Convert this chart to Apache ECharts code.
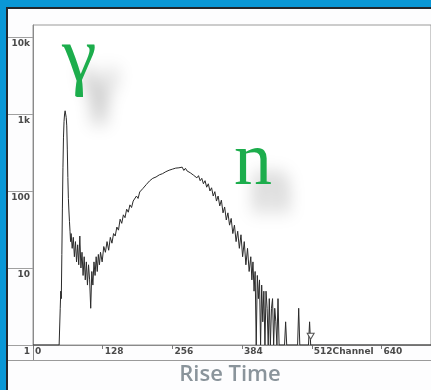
<!DOCTYPE html>
<html>
<head>
<meta charset="utf-8">
<script src="https://cdn.jsdelivr.net/npm/echarts@6/dist/echarts.min.js"></script>
<style>
  html, body { margin: 0; padding: 0; background: #fdfdfe; }
  #chart { width: 431px; height: 390px; }
</style>
</head>
<body>
<div id="chart"></div>
<script>
// rise-time spectrum, channel -> counts (1 = empty channel)
const channels = [
  0, 48, 49, 50, 51, 52, 53, 54, 55, 56, 57, 58, 59, 60, 61, 62, 63, 64, 65, 66, 67, 68, 69,
  70, 72, 74, 76, 78, 80, 82, 84, 86, 88, 90, 92, 94, 96, 98, 100, 102, 104, 106, 108, 110,
  112, 114, 116, 118, 120, 122,
  124, 127, 130, 133, 136, 139, 142, 145, 148, 151, 154, 157, 160, 163, 166, 169, 172, 175,
  178, 181, 184, 187, 190, 193, 196, 199, 202, 205, 208, 211, 214, 217, 220, 223, 226, 229,
  232, 235, 238, 241, 244, 247, 250, 253, 256, 259, 262, 265, 268, 271, 274, 277, 280, 283,
  286, 289, 292, 295, 298, 301, 304, 307, 310, 313, 316, 319, 322, 325, 328, 331, 334, 337,
  340, 343, 346, 349, 352, 355, 358, 361, 364, 367, 370, 373, 376, 379, 382, 385, 388, 391,
  394, 397, 400,
  402, 404, 406, 408, 410, 412, 414, 416, 418, 420, 422, 424, 426, 428, 430, 432, 434, 436,
  438, 440, 442, 444, 446, 448, 450, 452, 462, 464, 466, 486, 488, 490, 506, 508, 510, 731
];
const counts = [
  1, 1, 1, 3, 5, 4, 15, 60, 200, 500, 800, 1000, 1100, 1050, 900, 700, 350, 150, 80, 55, 40, 30, 22,
  28, 18, 25, 14, 22, 12, 20, 11, 26, 10, 16, 8, 14, 7, 12, 6, 11, 7, 3, 9, 6,
  12, 8, 14, 9, 15, 11,
  16, 12, 19, 16, 22, 17, 25, 21, 28, 26, 34, 31, 43, 38, 49, 45, 58, 53,
  66, 61, 74, 70, 86, 80, 97, 92, 108, 103, 121, 115, 135, 128, 146, 139, 152, 147,
  162, 154, 168, 163, 178, 170, 186, 178, 192, 184, 198, 188, 200, 190, 204, 185, 197, 182,
  190, 172, 178, 160, 168, 148, 158, 136, 146, 124, 136, 112, 124, 100, 110, 86, 98, 74,
  86, 64, 76, 52, 62, 42, 52, 36, 44, 28, 36, 22, 30, 18, 27, 14, 22, 11,
  18, 9, 14,
  7, 12, 5, 9, 1, 8, 4, 7, 1, 6, 2, 5, 1, 5, 3, 1, 4, 1,
  3, 4, 1, 3, 2, 1, 4, 1, 1, 2, 1, 1, 3, 1, 1, 2, 1, 1
];
const cursorChannel = 510;

const xTickValues = [0, 128, 256, 384, 512, 640];
const xTickLabels = ['0', '128', '256', '384', '512Channel', '640'];
const yTickValues = [1, 10, 100, 1000, 10000];
const yTickLabels = ['1', '10', '100', '1k', '10k'];

const chart = echarts.init(document.getElementById('chart'));

const tickFont = { fontFamily: 'DejaVu Sans', fontWeight: 'bold', fontSize: 9, color: '#4a4a4a' };

const option = {
  animation: false,
  backgroundColor: '#fdfdfe',
  grid: {
    left: 33, top: 25, right: -2, bottom: 45,
    show: true,
    backgroundColor: '#ffffff',
    borderColor: '#9a9a9a',
    borderWidth: 1
  },
  xAxis: {
    type: 'value',
    min: 0,
    max: 731,
    interval: 128,
    axisLine: { lineStyle: { color: '#8a8a8a' } },
    axisTick: { show: true, length: 4, customValues: xTickValues, lineStyle: { color: '#777' } },
    axisLabel: Object.assign({
      customValues: xTickValues,
      align: 'left',
      margin: 2,
      padding: [0, 0, 0, 2],
      formatter: v => xTickLabels[xTickValues.indexOf(Math.round(v))] || ''
    }, tickFont),
    splitLine: { show: false }
  },
  yAxis: {
    type: 'log',
    logBase: 10,
    min: 1,
    max: 14300,
    axisLine: { show: true, lineStyle: { color: '#8a8a8a' } },
    axisTick: { show: true, length: 25, customValues: yTickValues, lineStyle: { color: '#a0a0a0' } },
    axisLabel: Object.assign({
      customValues: yTickValues,
      verticalAlign: 'top',
      margin: 3,
      padding: [2, 0, 0, 0],
      formatter: v => yTickLabels[yTickValues.indexOf(Math.round(v))] || ''
    }, tickFont),
    splitLine: { show: false }
  },
  series: [{
    type: 'line',
    data: channels.map((c, i) => [c, counts[i]]),
    showSymbol: false,
    lineStyle: { width: 1, color: '#2b2b2b' },
    markPoint: {
      symbol: 'triangle',
      symbolRotate: 180,
      symbolSize: [7, 6],
      label: { show: false },
      itemStyle: { color: '#ffffff', borderColor: '#555', borderWidth: 1 },
      data: [{ coord: [cursorChannel, 1.3] }]
    }
  }],
  graphic: [
    // blue frame with dark inner edge
    { type: 'rect', shape: { x: 0, y: 0, width: 431, height: 7 }, style: { fill: '#0a97d6' } },
    { type: 'rect', shape: { x: 0, y: 0, width: 6, height: 390 }, style: { fill: '#0a97d6' } },
    { type: 'rect', shape: { x: 6, y: 7, width: 425, height: 2 }, style: { fill: '#23262b' } },
    { type: 'rect', shape: { x: 6, y: 7, width: 2, height: 383 }, style: { fill: '#23262b' } },
    // label strip under the x axis
    { type: 'line', shape: { x1: 8, y1: 360.5, x2: 431, y2: 360.5 }, style: { stroke: '#9a9a9a', lineWidth: 1 } },
    { type: 'line', shape: { x1: 33.5, y1: 345, x2: 33.5, y2: 360 }, style: { stroke: '#8a8a8a', lineWidth: 1 } },
    {
      type: 'text', x: 62, y: 21,
      style: {
        text: 'γ', font: '78px "Liberation Serif"', fill: '#1cad4c',
        align: 'left', verticalAlign: 'top',
        textShadowColor: 'rgba(0,0,0,0.42)', textShadowBlur: 18, textShadowOffsetX: 20, textShadowOffsetY: 26
      }
    },
    {
      type: 'text', x: 234, y: 126,
      style: {
        text: 'n', font: '76px "Liberation Serif"', fill: '#1cad4c',
        align: 'left', verticalAlign: 'top',
        textShadowColor: 'rgba(0,0,0,0.38)', textShadowBlur: 18, textShadowOffsetX: 18, textShadowOffsetY: 26
      }
    },
    {
      type: 'text', x: 230, y: 364,
      style: {
        text: 'Rise Time', font: '600 22px "Open Sans"', fill: '#8a949b',
        align: 'center', verticalAlign: 'top'
      }
    }
  ]
};

chart.setOption(option);
</script>
</body>
</html>
